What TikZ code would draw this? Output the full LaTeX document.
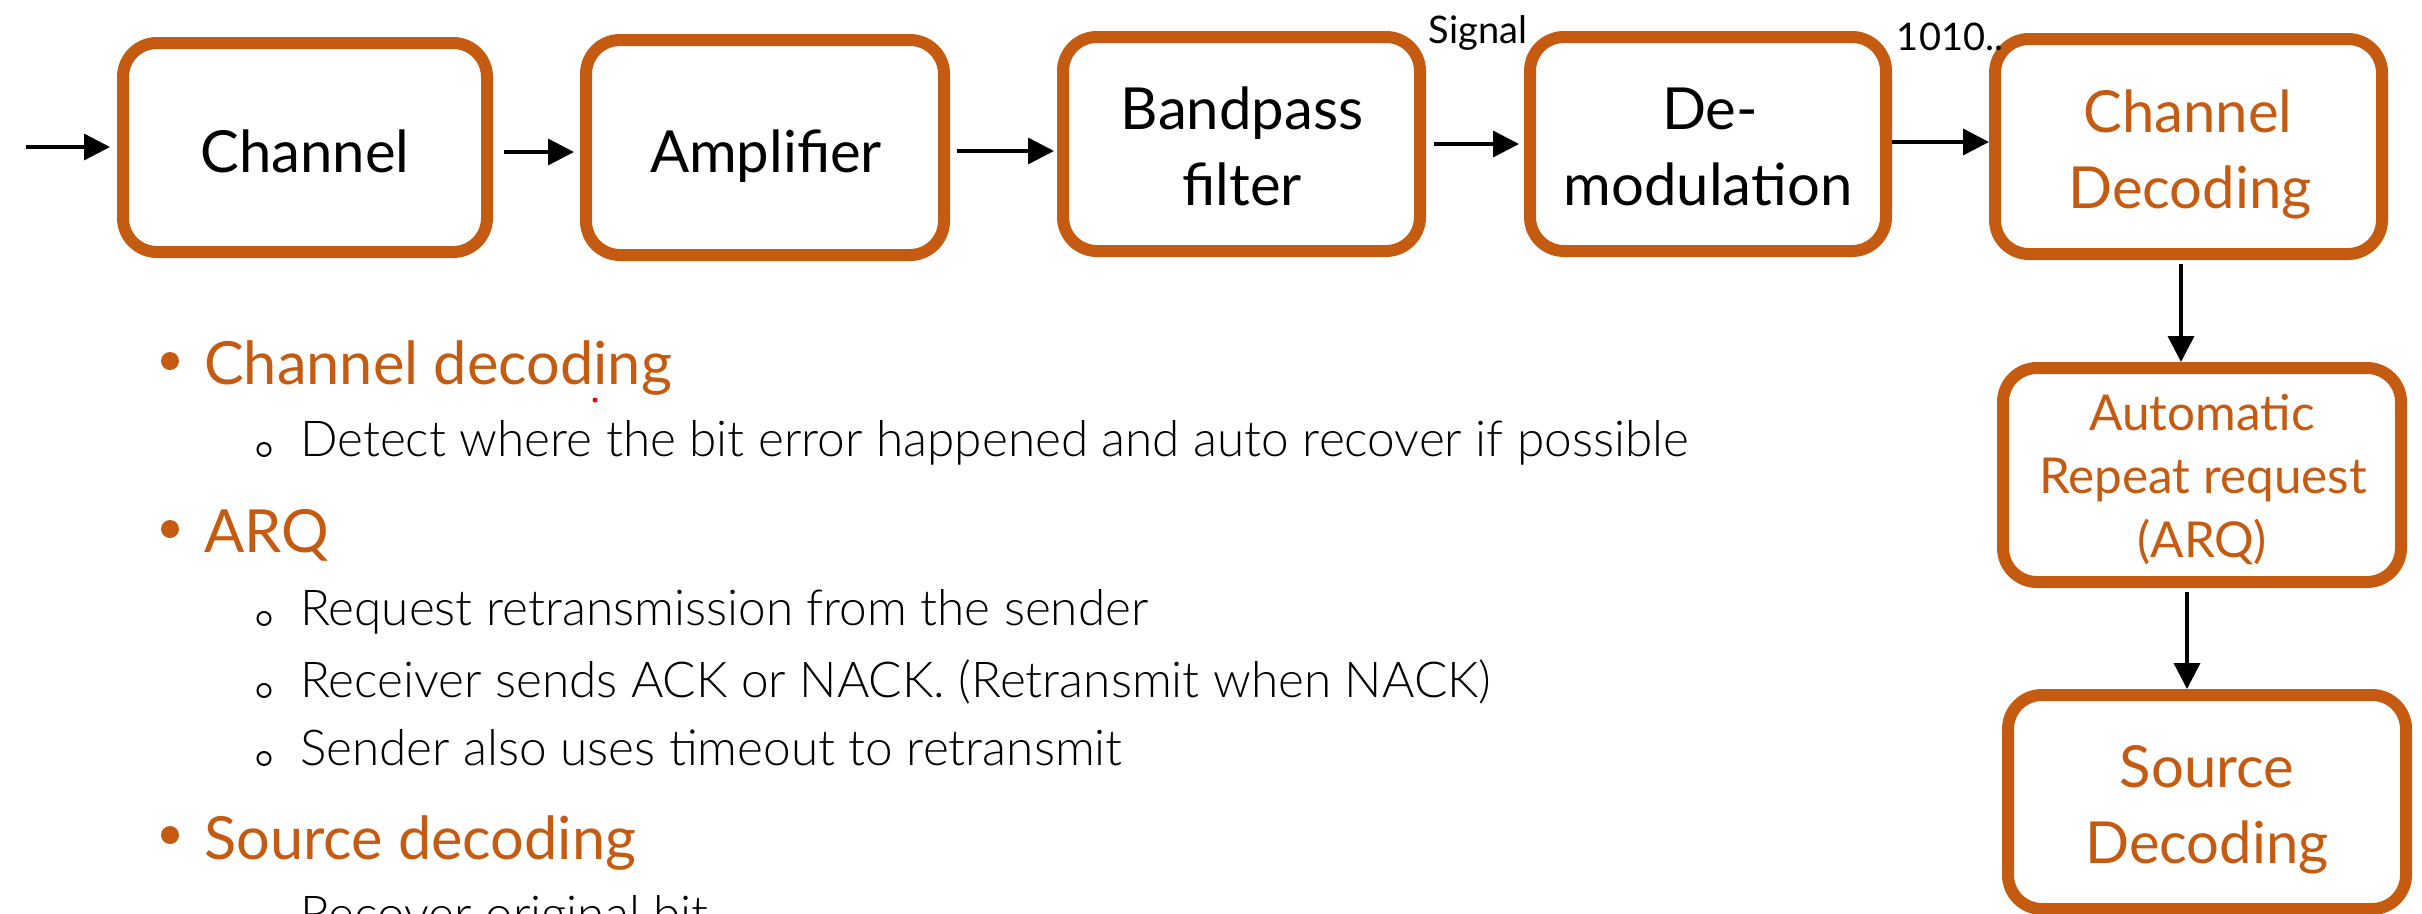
\documentclass[tikz,border=0pt]{standalone}
\usepackage{fontspec}
\setmainfont{Lato}
\newfontfamily\lightfont{Lato Light}
\usetikzlibrary{arrows.meta}
\definecolor{rust}{HTML}{C55A11}

\begin{document}
\begin{tikzpicture}[x=1pt,y=-1pt,
  blk/.style={draw=rust, line width=12pt, rounded corners=34pt, fill=white, inner sep=0pt},
  arr/.style={line width=3.5pt, -{Triangle[length=26pt,width=26pt]}},
  boxtxt/.style={font=\fontsize{58}{70}\selectfont, anchor=base, inner sep=0pt},
  smalltxt/.style={font=\fontsize{49.5}{60}\selectfont, anchor=base, inner sep=0pt, text=rust},
  tag/.style={font=\fontsize{38}{46}\selectfont, anchor=base, inner sep=0pt},
  head/.style={font=\fontsize{59.5}{72}\selectfont, anchor=base west, inner sep=0pt, text=rust},
  item/.style={font=\lightfont\fontsize{49.5}{60}\selectfont, anchor=base west, inner sep=0pt},
  dot/.style={circle, fill=rust, minimum size=18pt, inner sep=0pt},
  ring/.style={circle, draw, line width=2pt, minimum size=13pt, inner sep=0pt}]

\useasboundingbox (0,0) rectangle (2422,913);
\clip (0,0) rectangle (2422,913);

% receiver chain
\node[blk, minimum width=364pt, minimum height=209pt] (ch)  at (305,147.5) {};
\node[blk, minimum width=358pt, minimum height=215pt] (amp) at (765,147.5) {};
\node[blk, minimum width=357pt, minimum height=214pt] (bp)  at (1241.5,144) {};
\node[blk, minimum width=356pt, minimum height=214pt] (dm)  at (1708,144) {};
\node[blk, minimum width=387pt, minimum height=215pt] (cd)  at (2188.5,146.5) {};
\node[blk, minimum width=398pt, minimum height=214pt] (arq) at (2202,475) {};
\node[blk, minimum width=398pt, minimum height=214pt] (src) at (2207,802) {};

% block labels
\node[boxtxt] (chT)  at (305,172) {Channel};
\node[boxtxt] (ampT) at (766,172) {Amplifier};
\node[boxtxt] (bpA)  at (1242,129) {Bandpass};
\node[boxtxt] (bpB)  at (1242,205) {filter};
\node[boxtxt] (dmA)  at (1710,129) {De-};
\node[boxtxt] (dmB)  at (1708,205) {modulation};
\node[boxtxt, text=rust] (cdA) at (2188,132) {Channel};
\node[boxtxt, text=rust] (cdB) at (2190,208) {Decoding};
\node[smalltxt] (arqA) at (2202,430) {Automatic};
\node[smalltxt] (arqB) at (2203,493) {Repeat request};
\node[smalltxt] (arqC) at (2202,557) {(ARQ)};
\node[boxtxt, text=rust] (srcA) at (2207,787) {Source};
\node[boxtxt, text=rust] (srcB) at (2207,863) {Decoding};

% signal annotations
\node[tag] (sig)  at (1478,43) {Signal};
\node[tag] (bits) at (1950,50) {1010..};

% connectors
\coordinate (in) at (26,147);
\draw[arr, shorten >=7pt] (in) -- (in -| ch.west);
\draw[arr, shorten >=6pt] ([xshift=11pt,yshift=-4.5pt]ch.east) coordinate (a1) -- (a1 -| amp.west);
\draw[arr, shorten >=3pt] ([xshift=7pt,yshift=-3.5pt]amp.east) coordinate (a2) -- (a2 -| bp.west);
\draw[arr, shorten >=5pt] ([xshift=8pt]bp.east) coordinate (a3) -- (a3 -| dm.west);
\draw[arr] ([yshift=2pt]dm.east) coordinate (a4) -- (a4 -| cd.west);
\draw[arr] ([xshift=-7.5pt,yshift=-4pt]cd.south) coordinate (a5) -- (a5 |- arq.north);
\draw[arr] ([xshift=-15pt,yshift=-4pt]arq.south) coordinate (a6) -- (a6 |- src.north);

% bullet list
\node[dot] (b1) at (170,361) {};
\node[head] (h1) at (204,384) {Channel decoding};
\fill[red] (595,400) circle (2.5pt);
\node[ring] (r1) at (264,449.5) {};
\node[item] (t1) at (300,456) {Detect where the bit error happened and auto recover if possible};

\node[dot] (b2) at (170,529) {};
\node[head] (h2) at (204,552) {ARQ};
\node[ring] (r2) at (264,618.5) {};
\node[item] (t2) at (300,625) {Request retransmission from the sender};
\node[ring] (r3) at (264,690.5) {};
\node[item] (t3) at (300,697) {Receiver sends ACK or NACK. (Retransmit when NACK)};
\node[ring] (r4) at (264,758.5) {};
\node[item] (t4) at (300,765) {Sender also uses timeout to retransmit};

\node[dot] (b3) at (170,835) {};
\node[head] (h3) at (204,859) {Source decoding};
\node[item] (t5) at (300,931) {Recover original bit};
\end{tikzpicture}
\end{document}
